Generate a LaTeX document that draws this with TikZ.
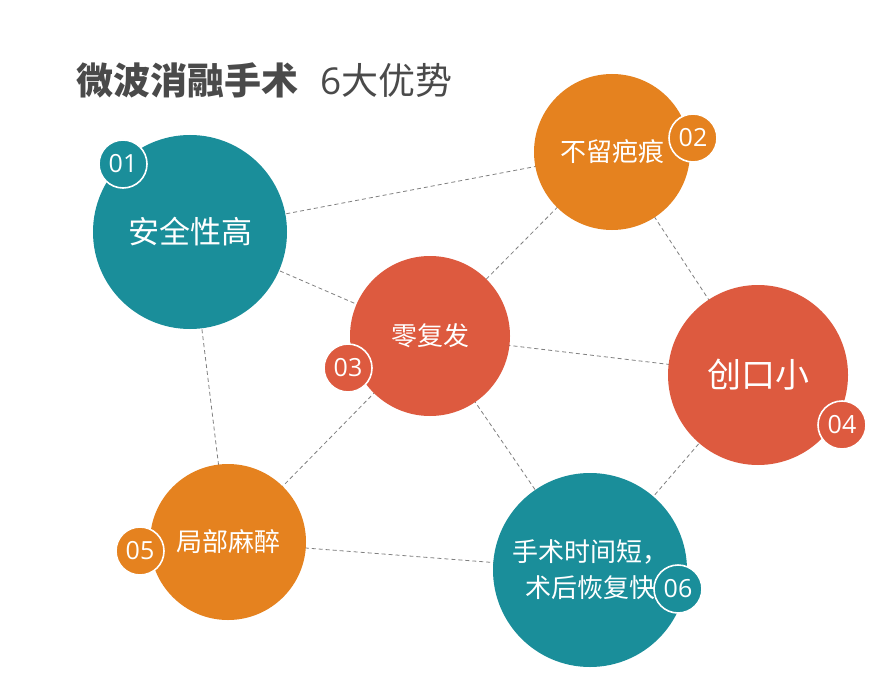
\documentclass[tikz,border=0pt]{standalone}
\usepackage{fontspec}
\setmainfont{Noto Sans CJK SC}
\newfontfamily\latin{Open Sans}[Scale=1]
\definecolor{teal}{HTML}{1A8E9A}
\definecolor{org}{HTML}{E5821F}
\definecolor{red}{HTML}{DD5A3F}
\definecolor{ttl}{HTML}{4A4A4A}
\tikzset{
 big/.style={circle,inner sep=0pt,text=white,font=\fontsize{26}{30}\selectfont},
 badge/.style={circle,draw=white,line width=1.6pt,minimum size=48pt,inner sep=0pt,text=white,font=\latin\fontsize{25}{26}\selectfont},
 dl/.style={dashed,gray,line width=0.8pt,dash pattern=on 4pt off 3pt}
}
\begin{document}
\begin{tikzpicture}[x=1pt,y=-1pt]
\useasboundingbox[fill=white] (0,0) rectangle (896,687);
\node[anchor=west,text=ttl,font=\fontsize{37}{40}\selectfont,inner sep=0pt] (t) at (76,80) {\textbf{微波消融手术}\hspace{22pt}\latin 6\normalfont 大优势};
\coordinate (c1) at (190,232);
\coordinate (c2) at (612,152);
\coordinate (c3) at (430,336);
\coordinate (c4) at (758,375);
\coordinate (c5) at (228,542);
\coordinate (c6) at (590,570);
\draw[dl] (c1)--(c2) (c1)--(c3) (c2)--(c3) (c2)--(c4) (c3)--(c4) (c3)--(c6) (c3)--(c5) (c1)--(c5) (c5)--(c6) (c4)--(c6);
\node[big,fill=teal,minimum size=194pt,font=\fontsize{31}{34}\selectfont] (n1) at (c1) {安全性高};
\node[big,fill=org,minimum size=156pt] (n2) at (c2) {不留疤痕};
\node[big,fill=red,minimum size=160pt] (n3) at (c3) {零复发};
\node[big,fill=red,minimum size=180pt,font=\fontsize{34}{36}\selectfont] (n4) at (c4) {创口小};
\node[big,fill=org,minimum size=156pt] (n5) at (c5) {局部麻醉};
\node[big,fill=teal,minimum size=194pt,font=\fontsize{26}{36}\selectfont,align=center] (n6) at (c6) {手术时间短，\\术后恢复快};
\node[badge,fill=teal] (b1) at (123,164) {01};
\node[badge,fill=org] (b2) at (693,138) {02};
\node[badge,fill=red] (b3) at (348,368) {03};
\node[badge,fill=red] (b4) at (842,425) {04};
\node[badge,fill=org] (b5) at (140,551) {05};
\node[badge,fill=teal] (b6) at (678,589) {06};
\end{tikzpicture}
\end{document}
